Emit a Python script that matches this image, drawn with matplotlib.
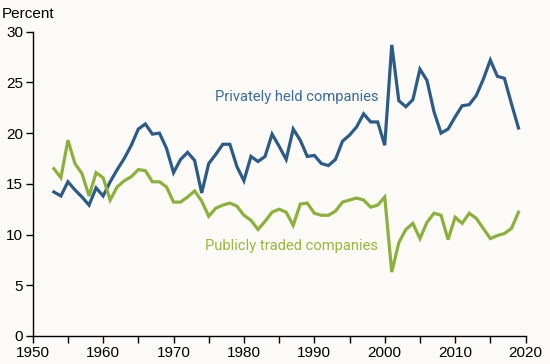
import matplotlib
matplotlib.use("Agg")
import matplotlib.pyplot as plt

# Data (percent)
years = list(range(1953, 2020))

private = [14.2, 13.8, 15.2, 14.4, 13.7, 12.9, 14.6, 13.8, 15.2, 16.4,
           17.5, 18.8, 20.4, 20.9, 19.9, 20.0, 18.5, 16.1, 17.4, 18.1,
           17.3, 14.1, 17.0, 17.9, 18.9, 18.9, 16.7, 15.3, 17.7, 17.2,
           17.7, 19.9, 18.7, 17.4, 20.4, 19.3, 17.7, 17.8, 17.0, 16.8,
           17.4, 19.2, 19.8, 20.6, 21.9, 21.1, 21.1, 18.8, 28.7, 23.2,
           22.6, 23.3, 26.3, 25.2, 22.1, 20.0, 20.4, 21.6, 22.7, 22.8,
           23.7, 25.3, 27.2, 25.6, 25.4, 22.9, 20.5]

public = [16.5, 15.6, 19.3, 17.0, 16.0, 13.8, 16.1, 15.6, 13.4, 14.7,
          15.3, 15.7, 16.4, 16.3, 15.2, 15.2, 14.7, 13.2, 13.2, 13.7,
          14.3, 13.3, 11.8, 12.6, 12.9, 13.1, 12.8, 11.9, 11.4, 10.5,
          11.3, 12.2, 12.5, 12.2, 10.9, 13.0, 13.1, 12.1, 11.9, 11.9,
          12.3, 13.2, 13.4, 13.6, 13.4, 12.7, 12.9, 13.7, 6.3, 9.2,
          10.5, 11.1, 9.6, 11.2, 12.1, 11.9, 9.5, 11.7, 11.1, 12.1,
          11.6, 10.6, 9.6, 9.9, 10.1, 10.6, 12.2]

series_names = ["Privately held companies", "Publicly traded companies"]

BG = "#fbfaf6"
BLUE = "#2c5b88"
GREEN = "#8cb03c"

fig = plt.figure(figsize=(5.5, 3.64), dpi=100, facecolor=BG)
ax = fig.add_axes([0.0595, 0.077, 0.896, 0.836], facecolor=BG)

ax.plot(years, private, color=BLUE, lw=2.3, solid_joinstyle="miter")
ax.plot(years, public, color=GREEN, lw=2.3, solid_joinstyle="miter")

ax.text(1987.5, 23.6, series_names[0], color="#3b6b9b", fontsize=10.6,
        family="Roboto", ha="center", va="center")
ax.text(1986.8, 8.9, series_names[1], color="#97b83e", fontsize=10.6,
        family="Roboto", ha="center", va="center")

ax.set_xlim(1950, 2020)
ax.set_ylim(0, 30)
ax.set_xticks(range(1950, 2021, 5))
ax.set_xticklabels([str(y) if y % 10 == 0 else "" for y in range(1950, 2021, 5)])
ax.set_yticks(range(0, 31, 5))

for s in ["top", "right"]:
    ax.spines[s].set_visible(False)
for s in ["left", "bottom"]:
    ax.spines[s].set_linewidth(1.0)
    ax.spines[s].set_color("black")

ax.tick_params(direction="out", length=5, width=1, colors="black",
               labelsize=11, pad=2)
for lab in ax.get_xticklabels() + ax.get_yticklabels():
    lab.set_family("Liberation Sans")

fig.text(0.004, 0.962, "Percent", fontsize=11, family="Liberation Sans",
         ha="left", va="center")

fig.savefig("out.png", dpi=100, facecolor=BG)
